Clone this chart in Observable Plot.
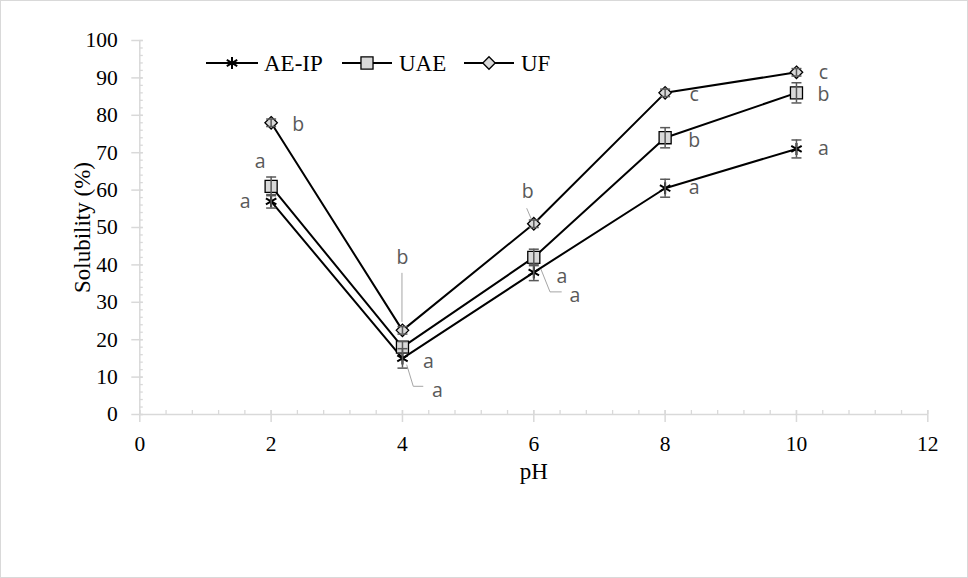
<!DOCTYPE html>
<html><head><meta charset="utf-8">
<script src="https://cdn.jsdelivr.net/npm/d3@7"></script>
<script src="https://cdn.jsdelivr.net/npm/@observablehq/plot@0.6"></script>
<style>
html,body{margin:0;padding:0;background:#fff;}
#chart svg{display:block;outline:1px solid #d9d9d9;outline-offset:-1px;}
</style></head><body><div id="chart"></div>
<script>
// ---- data ----
const pH = [2, 4, 6, 8, 10];
const seriesNames = ["AE-IP", "UAE", "UF"];
const aeip = [57, 15, 38, 60.5, 71];
const uae = [61, 18, 42, 74, 86];
const uf = [78, 22.5, 51, 86, 91.5];
const aeipErr = [1.8, 2.6, 2.2, 2.4, 2.4];
const uaeErr = [2.5, 1.5, 2.2, 2.7, 2.7];
const ufErr = [1, 1, 1, 1, 1];
const aeipLetters = ["a", "a", "a", "a", "a"];
const uaeLetters = ["a", "a", "a", "b", "b"];
const ufLetters = ["b", "b", "b", "c", "c"];
const xTicks = [0, 2, 4, 6, 8, 10, 12];
const yTicks = [0, 10, 20, 30, 40, 50, 60, 70, 80, 90, 100];
const xLabel = "pH";
const yLabel = "Solubility (%)";

// ---- layout (pixel offsets of the significance letters from their points) ----
const letterOffsets = {
  "AE-IP": [[-26, 0], [35, 32], [41, 23], [29, 0], [27, 0]],
  "UAE":   [[-11, -25], [26, 15], [28, 19], [29, 3], [27, 2]],
  "UF":    [[27, 2], [0, -73], [-6, -32], [29, 2], [27, 0]]
};
// leader lines: [series, pH index, list of pixel offsets]
const leaders = [
  ["UF", 1, [[0, -57], [0, -8]]],
  ["AE-IP", 1, [[4.7, 6.7], [11.3, 28.4], [21.3, 28.4]]],
  ["UF", 2, [[-6.6, -15], [-1.6, -3.3]]],
  ["AE-IP", 2, [[6.7, -5], [16.7, 20], [28.4, 20]]]
];

const values = {"AE-IP": aeip, "UAE": uae, "UF": uf};
const errs = {"AE-IP": aeipErr, "UAE": uaeErr, "UF": ufErr};
const letters = {"AE-IP": aeipLetters, "UAE": uaeLetters, "UF": ufLetters};
const rows = seriesNames.flatMap(s => pH.map((p, i) => ({series: s, pH: p, value: values[s][i], err: errs[s][i], letter: letters[s][i], i})));

const symbols = {"AE-IP": "asterisk", "UAE": "square", "UF": "diamond2"};
const radii = {"AE-IP": 5.7, "UAE": 6.8, "UF": 5.6};
const capSymbol = {draw(ctx, size) { const w = Math.sqrt(size / Math.PI); ctx.moveTo(-w, 0); ctx.lineTo(w, 0); }};

const serif = "Liberation Serif";
const axisColor = "#d9d9d9";
const xMinor = d3.range(0, 12.0001, 0.4);
const yMinor = d3.range(0, 100.001, 2);

const letterMarks = rows.map(d => Plot.text([d], {
  x: "pH", y: "value", text: "letter",
  dx: letterOffsets[d.series][d.i][0], dy: letterOffsets[d.series][d.i][1],
  fontFamily: "Open Sans", fontSize: 19.5, fill: "#595959"
}));

function leaderMark(index, scales) {
  const g = d3.create("svg:g");
  for (const [s, i, pts] of leaders) {
    const px = scales.x(pH[i]), py = scales.y(values[s][i]);
    g.append("path")
      .attr("d", d3.line()(pts.map(([dx, dy]) => [px + dx, py + dy])))
      .attr("fill", "none").attr("stroke", "#a6a6a6").attr("stroke-width", 1);
  }
  return g.node();
}

function legendMark() {
  const g = d3.create("svg:g");
  const entries = [
    {name: "AE-IP", x0: 206, x1: 258, tx: 264},
    {name: "UAE", x0: 342, x1: 392, tx: 399},
    {name: "UF", x0: 464, x1: 514, tx: 521}
  ];
  const y = 63;
  const symMap = {"AE-IP": d3.symbolAsterisk, "UAE": d3.symbolSquare, "UF": d3.symbolDiamond2};
  for (const e of entries) {
    g.append("line").attr("x1", e.x0).attr("x2", e.x1).attr("y1", y).attr("y2", y)
      .attr("stroke", "black").attr("stroke-width", 2);
    const r = radii[e.name];
    g.append("path").attr("transform", `translate(${(e.x0 + e.x1) / 2},${y})`)
      .attr("d", d3.symbol(symMap[e.name], Math.PI * r * r)())
      .attr("fill", e.name === "AE-IP" ? "none" : "#d9d9d9")
      .attr("stroke", "black").attr("stroke-width", e.name === "AE-IP" ? 2 : 1.3);
    g.append("text").attr("x", e.tx).attr("y", y).attr("dy", "0.35em")
      .attr("text-anchor", "start")
      .attr("font-family", serif).attr("font-size", 23).attr("fill", "black").text(e.name);
  }
  return g.node();
}

const chart = Plot.plot({
  width: 968, height: 578,
  marginLeft: 139.3, marginRight: 40.7, marginTop: 40, marginBottom: 164,
  x: {domain: [0, 12]},
  y: {domain: [0, 100]},
  style: {fontFamily: serif, fontSize: "21px", color: "black", background: "white"},
  marks: [
    Plot.ruleY([0], {stroke: axisColor, strokeWidth: 1.5}),
    Plot.ruleX([0], {stroke: axisColor, strokeWidth: 1.5}),
    Plot.axisX({ticks: xMinor, tickSize: 4, dy: -4, tickFormat: () => "", label: null, stroke: axisColor, strokeWidth: 1.3}),
    Plot.axisX({ticks: xTicks, tickSize: 12, dy: -4, tickFormat: () => "", label: null, stroke: axisColor, strokeWidth: 1.5}),
    Plot.axisX({ticks: xTicks, tickSize: 0, tickPadding: 21.5, label: null, fontSize: 21.5, fill: "black"}),
    Plot.axisY({ticks: yMinor, tickSize: 3.5, dx: 3.5, tickFormat: () => "", label: null, stroke: axisColor, strokeWidth: 1.3}),
    Plot.axisY({ticks: yTicks, tickSize: 11.5, dx: 3.5, tickFormat: () => "", label: null, stroke: axisColor, strokeWidth: 1.5}),
    Plot.axisY({ticks: yTicks, tickSize: 0, tickPadding: 22, label: null, fontSize: 21.5, fill: "black"}),
    Plot.text([yLabel], {text: d => d, frameAnchor: "left", textAnchor: "middle", lineAnchor: "middle", dx: -57, rotate: -90, fontSize: 23, fill: "black"}),
    Plot.text([xLabel], {text: d => d, frameAnchor: "bottom", textAnchor: "middle", lineAnchor: "middle", dy: 57, fontSize: 23, fill: "black"}),
    leaderMark,
    Plot.line(rows, {x: "pH", y: "value", z: "series", stroke: "black", strokeWidth: 2}),
    ...seriesNames.map(s => Plot.dot(rows.filter(d => d.series === s), {
      x: "pH", y: "value", symbol: symbols[s], r: radii[s],
      fill: s === "AE-IP" ? "none" : "#d9d9d9", stroke: "black", strokeWidth: s === "AE-IP" ? 2 : 1.3
    })),
    Plot.ruleX(rows, {x: "pH", y1: d => d.value - d.err, y2: d => d.value + d.err, stroke: "#595959", strokeWidth: 1.5}),
    Plot.dot(rows, {x: "pH", y: d => d.value + d.err, symbol: capSymbol, r: 5, stroke: "#595959", strokeWidth: 1.5}),
    Plot.dot(rows, {x: "pH", y: d => d.value - d.err, symbol: capSymbol, r: 5, stroke: "#595959", strokeWidth: 1.5}),
    ...letterMarks,
    legendMark
  ]
});
document.getElementById("chart").appendChild(chart);
</script></body></html>
